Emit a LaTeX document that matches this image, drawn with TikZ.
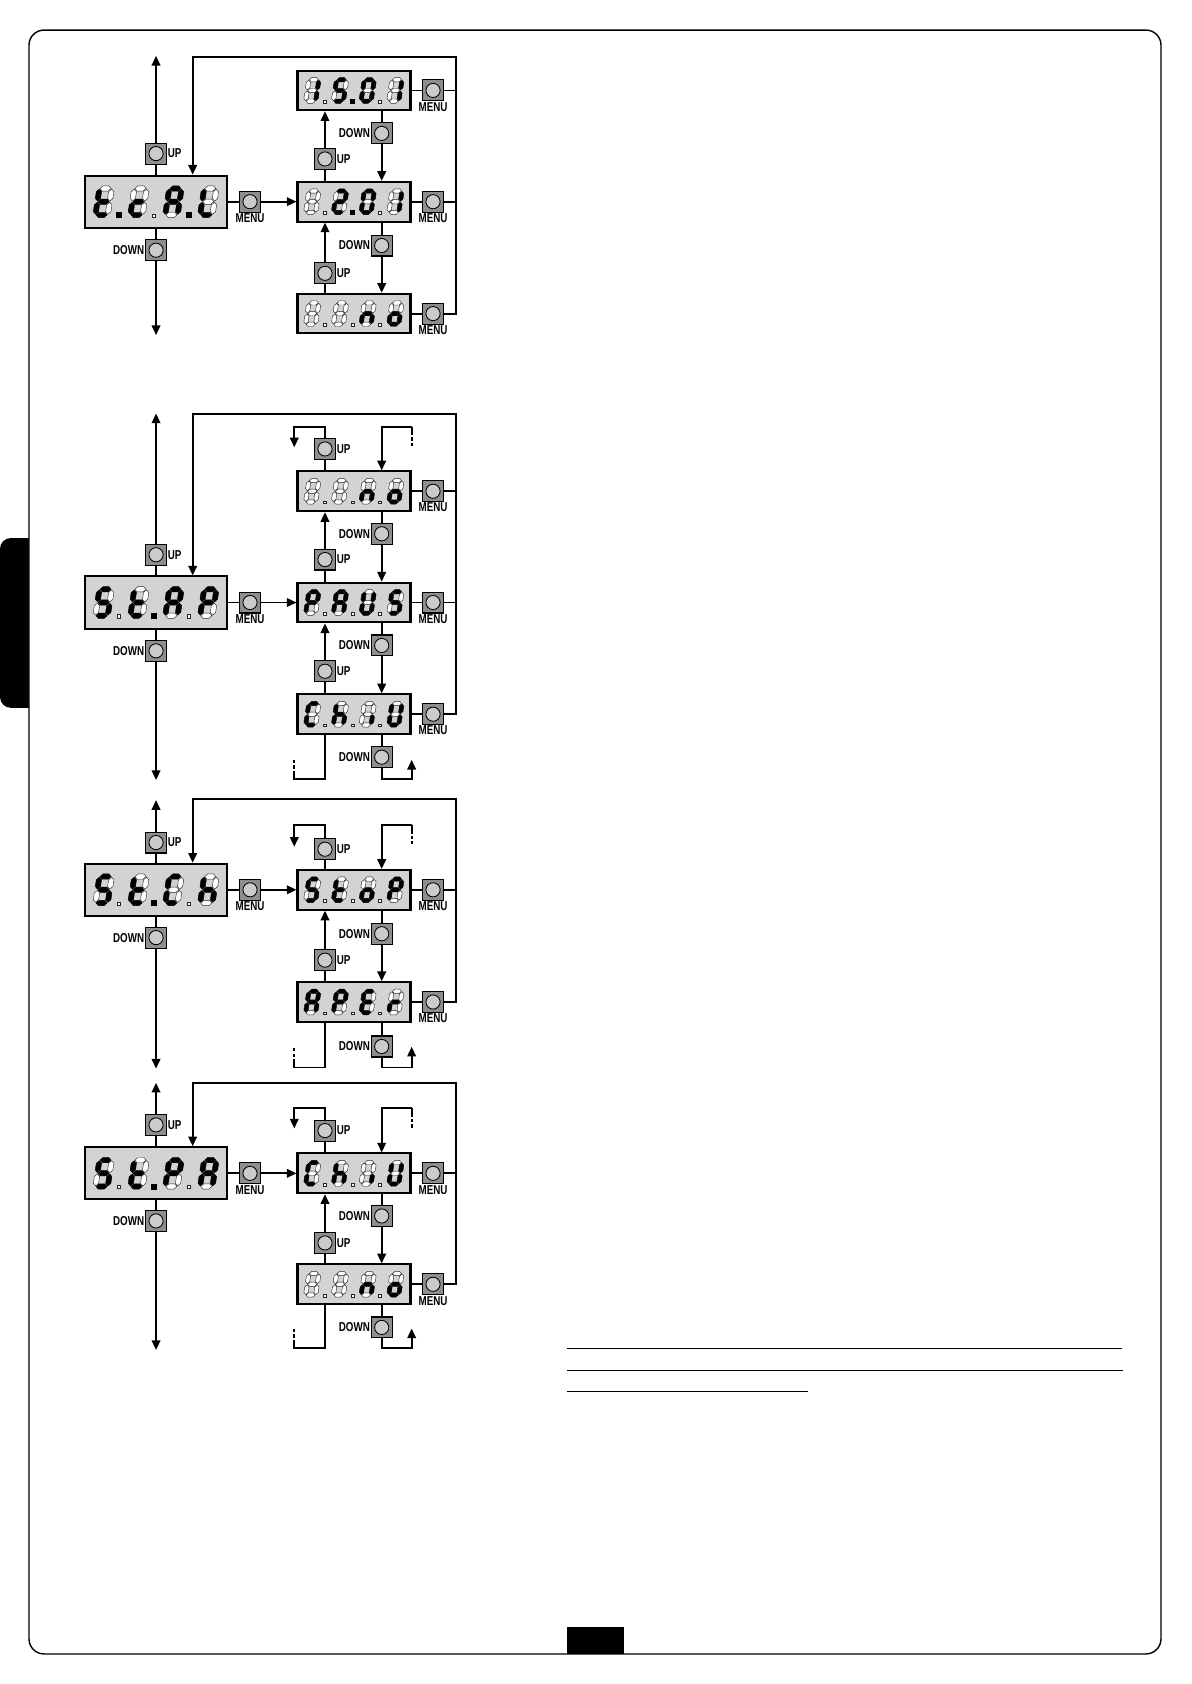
\documentclass[tikz,border=0pt]{standalone}
\usepackage{fontspec}
\setmainfont{Liberation Sans}
\newfontfamily\lblfont[FakeStretch=0.76]{Liberation Sans}
\usetikzlibrary{arrows.meta,calc}

\definecolor{dispfill}{HTML}{D3D3D3}
\definecolor{btnfill}{HTML}{8E8E8E}
\definecolor{btncirc}{HTML}{CBCBCB}

\tikzset{
  conn/.style={line width=1.7pt, draw=black},
  arr/.style={conn, -{Triangle[length=9pt,width=8pt]}},
  dashstub/.style={conn, dash pattern=on 8pt off 2pt on 3pt off 2pt on 3pt off 2pt on 3pt off 2pt},
  bigbox/.style={draw=black, line width=1.9pt, fill=dispfill, minimum width=132.5pt, minimum height=48.5pt, inner sep=0pt},
  smallbox/.style={draw=black, line width=1.9pt, fill=dispfill, minimum width=105.2pt, minimum height=37pt, inner sep=0pt},
  btn/.style={draw=black, line width=1pt, fill=btnfill, minimum size=19.5pt, inner sep=0pt,
     path picture={\draw[line width=0.8pt, fill=btncirc] (path picture bounding box.center) circle (6.6pt);}},
  lbl/.style={font=\lblfont\bfseries\fontsize{12}{12}\selectfont, inner sep=0.6pt},
  seg0/.style={fill=white, draw=black!85, line width=0.4pt},
  seg1/.style={fill=black, draw=black, line width=0.4pt},
}

% seven-segment codes: a b c d e f g
\def\sgblank{0000000}
\def\sgzero{1111110}
\def\sgone{0110000}
\def\sgtwo{1101101}
\def\sgfive{1011011}
\def\sgS{1011011}
\def\sgt{0001111}
\def\sgc{0001101}
\def\sgA{1110111}
\def\sgL{0001110}
\def\sgn{0010101}
\def\sgo{0011101}
\def\sgP{1100111}
\def\sgU{0111110}
\def\sgC{1001110}
\def\sgh{0010111}
\def\sgi{0010000}
\def\sgE{1001111}
\def\sgr{0000101}

\def\digsegs#1#2#3#4#5#6#7#8\relax{%
  \path[seg#1] (1.85,16.5) -- (3.35,18) -- (6.65,18) -- (8.15,16.5) -- (6.65,15) -- (3.35,15) -- cycle;
  \path[seg#2] (8.5,9.35) -- (10,10.85) -- (10,14.65) -- (8.5,16.15) -- (7,14.65) -- (7,10.85) -- cycle;
  \path[seg#3] (8.5,1.85) -- (10,3.35) -- (10,7.15) -- (8.5,8.65) -- (7,7.15) -- (7,3.35) -- cycle;
  \path[seg#4] (1.85,1.5) -- (3.35,3) -- (6.65,3) -- (8.15,1.5) -- (6.65,0) -- (3.35,0) -- cycle;
  \path[seg#5] (1.5,1.85) -- (3,3.35) -- (3,7.15) -- (1.5,8.65) -- (0,7.15) -- (0,3.35) -- cycle;
  \path[seg#6] (1.5,9.35) -- (3,10.85) -- (3,14.65) -- (1.5,16.15) -- (0,14.65) -- (0,10.85) -- cycle;
  \path[seg#7] (1.85,9) -- (3.35,10.5) -- (6.65,10.5) -- (8.15,9) -- (6.65,7.5) -- (3.35,7.5) -- cycle;
  \ifcase#8\relax
    \path[seg0] (13.9,0.3) rectangle (15.7,2.1);
  \or
    \path[seg1] (13.4,0) rectangle (16.2,2.8);
  \else\fi}

\newcommand\digit[4]{%
  \begin{scope}[shift={({#1},{#2})},x={(#3pt,0pt)},y={({0.15*#3pt},#3pt)}]
    \expandafter\digsegs#4\relax
  \end{scope}}

\newcommand\bigdisp[7]{%
  \node[bigbox] (#1) at (#2,#3) {};
  \digit{#2-59.25}{#3+14.75}{1.64}{#4}
  \digit{#2-26.75}{#3+14.75}{1.64}{#5}
  \digit{#2+5.75}{#3+14.75}{1.64}{#6}
  \digit{#2+38.25}{#3+14.75}{1.64}{#7}}

\newcommand\smalldisp[7]{%
  \node[smallbox] (#1) at (#2,#3) {};
  \digit{#2-47.3}{#3+12}{1.333}{#4}
  \digit{#2-21.5}{#3+12}{1.333}{#5}
  \digit{#2+4.3}{#3+12}{1.333}{#6}
  \digit{#2+30.1}{#3+12}{1.333}{#7}}

\newcommand\btnR[4]{\node[btn] (#1) at (#2,#3) {}; \node[lbl, anchor=west] (#1-l) at (#1.east) {#4};}
\newcommand\btnL[4]{\node[btn] (#1) at (#2,#3) {}; \node[lbl, anchor=east] (#1-l) at (#1.west) {#4};}
\newcommand\btnB[4]{\node[btn] (#1) at (#2,#3) {}; \node[lbl, anchor=north] (#1-l) at (#1.south) {#4};}

\begin{document}
\begin{tikzpicture}[x=1pt,y=-1pt]
\useasboundingbox (0,0) rectangle (1109,1568);
\fill[white] (0,0) rectangle (1109,1568);
% page frame, tab, footer
\fill[black, rounded corners=10pt] (0,501) rectangle (50,659);
\filldraw[fill=white, draw=black, line width=1.3pt, rounded corners=14pt] (27,28) rectangle (1081,1540);
\fill[black] (528,1515) rectangle (581,1540);
\draw[line width=1pt] (528,1256) -- (1045,1256);
\draw[line width=1pt] (528,1276) -- (1046,1276);
\draw[line width=1pt] (528,1296) -- (752,1296);

% ================= Diagram A =================
\coordinate (Atip) at (145.3,52);
\coordinate (Abtip) at (145.3,312);
\coordinate (Avt) at (424.8,53.4);
\coordinate (Aret) at (179.4,53.4);
\bigdisp{Abig}{145.3}{187.8}{\sgt1}{\sgc0}{\sgA1}{\sgL2}
\btnR{Aup}{145.3}{143}{UP}
\btnL{Adn}{145.3}{233}{DOWN}
\btnB{Amenu}{232.8}{187.8}{MENU}
\smalldisp{Ar1}{329.6}{84.2}{\sgone0}{\sgfive1}{\sgzero0}{\sgone2}
\smalldisp{Ar2}{329.6}{187.8}{\sgblank0}{\sgtwo1}{\sgzero0}{\sgone2}
\smalldisp{Ar3}{329.6}{292}{\sgblank0}{\sgblank0}{\sgn0}{\sgo2}
\btnB{Am1}{403.2}{84.2}{MENU}
\btnB{Am2}{403.2}{187.8}{MENU}
\btnB{Am3}{403.2}{292}{MENU}
\btnL{Ad1}{355.4}{124.2}{DOWN}
\btnR{Au1}{302.6}{148}{UP}
\btnL{Ad2}{355.4}{228.6}{DOWN}
\btnR{Au2}{302.6}{254.5}{UP}
\draw[arr] (Aup) -- (Atip);
\draw[conn] (Abig) -- (Aup);
\draw[conn] (Abig) -- (Adn);
\draw[arr] (Adn) -- (Abtip);
\draw[conn] (Abig) -- (Amenu);
\draw[arr] (Amenu) -- (Ar2);
\draw[conn] (Ar1) -- (Am1);
\draw[conn] (Ar2) -- (Am2);
\draw[conn] (Ar3) -- (Am3);
\draw[conn] (Am1) -- (Am1 -| Avt);
\draw[conn] (Am2) -- (Am2 -| Avt);
\draw[arr] (Am3) -| (Avt) -- (Aret) -- (Abig.north -| Aret);
\draw[conn] (Ar1.south -| Ad1) -- (Ad1);
\draw[arr] (Ad1) -- (Ar2.north -| Ad1);
\draw[conn] (Ar2.north -| Au1) -- (Au1);
\draw[arr] (Au1) -- (Ar1.south -| Au1);
\draw[conn] (Ar2.south -| Ad2) -- (Ad2);
\draw[arr] (Ad2) -- (Ar3.north -| Ad2);
\draw[conn] (Ar3.north -| Au2) -- (Au2);
\draw[arr] (Au2) -- (Ar2.south -| Au2);

% ================= Diagram B =================
\coordinate (Btip) at (145.3,385);
\coordinate (Bbtip) at (145.3,726.3);
\coordinate (Bvt) at (424.8,385.5);
\coordinate (Bret) at (179.4,385.5);
\coordinate (BtlA) at (274,397.3);
\coordinate (Btl) at (274,416.5);
\coordinate (BtrA) at (383.3,397.3);
\coordinate (Btr) at (383.3,416.5);
\coordinate (BblA) at (274,725.7);
\coordinate (Bbl) at (274,707);
\coordinate (BbrA) at (383.3,725.7);
\coordinate (Bbr) at (383.3,707.5);
\bigdisp{Bbig}{145.3}{561}{\sgS0}{\sgt1}{\sgA0}{\sgP2}
\btnR{Bup}{145.3}{516.5}{UP}
\btnL{Bdn}{145.3}{606}{DOWN}
\btnB{Bmenu}{232.8}{561}{MENU}
\smalldisp{Br1}{329.6}{457.4}{\sgblank0}{\sgblank0}{\sgn0}{\sgo2}
\smalldisp{Br2}{329.6}{561}{\sgP0}{\sgA0}{\sgU0}{\sgS2}
\smalldisp{Br3}{329.6}{665}{\sgC0}{\sgh0}{\sgi0}{\sgU2}
\btnB{Bm1}{403.2}{457.4}{MENU}
\btnB{Bm2}{403.2}{561}{MENU}
\btnB{Bm3}{403.2}{665}{MENU}
\btnR{Bu0}{302.6}{418}{UP}
\btnL{Bd1}{355.4}{497}{DOWN}
\btnR{Bu1}{302.6}{521}{UP}
\btnL{Bd2}{355.4}{601}{DOWN}
\btnR{Bu2}{302.6}{625}{UP}
\btnL{Bd3}{355.4}{705}{DOWN}
\draw[arr] (Bup) -- (Btip);
\draw[conn] (Bbig) -- (Bup);
\draw[conn] (Bbig) -- (Bdn);
\draw[arr] (Bdn) -- (Bbtip);
\draw[conn] (Bbig) -- (Bmenu);
\draw[arr] (Bmenu) -- (Br2);
\draw[conn] (Br1) -- (Bm1);
\draw[conn] (Br2) -- (Bm2);
\draw[conn] (Br3) -- (Bm3);
\draw[conn] (Bm1) -- (Bm1 -| Bvt);
\draw[conn] (Bm2) -- (Bm2 -| Bvt);
\draw[arr] (Bm3) -| (Bvt) -- (Bret) -- (Bbig.north -| Bret);
\draw[conn] (Br1.north -| Bu0) -- (Bu0);
\draw[arr] (Bu0) |- (BtlA) -- (Btl);
\draw[dashstub] (BtrA) -- (Btr);
\draw[arr] (BtrA) -| (Br1.north -| Bd1);
\draw[conn] (Br1.south -| Bd1) -- (Bd1);
\draw[arr] (Bd1) -- (Br2.north -| Bd1);
\draw[conn] (Br2.north -| Bu1) -- (Bu1);
\draw[arr] (Bu1) -- (Br1.south -| Bu1);
\draw[conn] (Br2.south -| Bd2) -- (Bd2);
\draw[arr] (Bd2) -- (Br3.north -| Bd2);
\draw[conn] (Br3.north -| Bu2) -- (Bu2);
\draw[arr] (Bu2) -- (Br2.south -| Bu2);
\draw[conn] (Br3.south -| Bd3) -- (Bd3);
\draw[arr] (Bd3) |- (BbrA) -- (Bbr);
\draw[conn, line cap=rect] (Br3.south -| Bu2) |- (BblA);
\draw[dashstub] (BblA) -- (Bbl);

% ================= Diagram C =================
\coordinate (Ctip) at (145.3,745);
\coordinate (Cbtip) at (145.3,995);
\coordinate (Cvt) at (424.8,744.3);
\coordinate (Cret) at (179.4,744.3);
\coordinate (CtlA) at (274,768.2);
\coordinate (Ctl) at (274,788.4);
\coordinate (CtrA) at (383.3,768.2);
\coordinate (Ctr) at (383.3,788);
\coordinate (CblA) at (274,994);
\coordinate (Cbl) at (274,974.6);
\coordinate (CbrA) at (383.3,994);
\coordinate (Cbr) at (383.3,974.6);
\bigdisp{Cbig}{145.3}{828.5}{\sgS0}{\sgt1}{\sgC0}{\sgh2}
\btnR{Cup}{145.3}{784.5}{UP}
\btnL{Cdn}{145.3}{873}{DOWN}
\btnB{Cmenu}{232.8}{828.5}{MENU}
\smalldisp{Cr1}{329.6}{828.5}{\sgS0}{\sgt0}{\sgo0}{\sgP2}
\smalldisp{Cr2}{329.6}{933}{\sgA0}{\sgP0}{\sgE0}{\sgr2}
\btnB{Cm1}{403.2}{828.5}{MENU}
\btnB{Cm2}{403.2}{933}{MENU}
\btnR{Cu0}{302.6}{790.7}{UP}
\btnL{Cd1}{355.4}{869.4}{DOWN}
\btnR{Cu1}{302.6}{894}{UP}
\btnL{Cd2}{355.4}{974.4}{DOWN}
\draw[arr] (Cup) -- (Ctip);
\draw[conn] (Cbig) -- (Cup);
\draw[conn] (Cbig) -- (Cdn);
\draw[arr] (Cdn) -- (Cbtip);
\draw[conn] (Cbig) -- (Cmenu);
\draw[arr] (Cmenu) -- (Cr1);
\draw[conn] (Cr1) -- (Cm1);
\draw[conn] (Cr2) -- (Cm2);
\draw[conn] (Cm1) -- (Cm1 -| Cvt);
\draw[arr] (Cm2) -| (Cvt) -- (Cret) -- (Cbig.north -| Cret);
\draw[conn] (Cr1.north -| Cu0) -- (Cu0);
\draw[arr] (Cu0) |- (CtlA) -- (Ctl);
\draw[dashstub] (CtrA) -- (Ctr);
\draw[arr] (CtrA) -| (Cr1.north -| Cd1);
\draw[conn] (Cr1.south -| Cd1) -- (Cd1);
\draw[arr] (Cd1) -- (Cr2.north -| Cd1);
\draw[conn] (Cr2.north -| Cu1) -- (Cu1);
\draw[arr] (Cu1) -- (Cr1.south -| Cu1);
\draw[conn] (Cr2.south -| Cd2) -- (Cd2);
\draw[arr] (Cd2) |- (CbrA) -- (Cbr);
\draw[conn, line cap=rect] (Cr2.south -| Cu1) |- (CblA);
\draw[dashstub] (CblA) -- (Cbl);

% ================= Diagram D =================
\coordinate (Dtip) at (145.3,1008.2);
\coordinate (Dbtip) at (145.3,1257);
\coordinate (Dvt) at (424.8,1008.2);
\coordinate (Dret) at (179.4,1008.2);
\coordinate (DtlA) at (274,1032);
\coordinate (Dtl) at (274,1050.7);
\coordinate (DtrA) at (383.3,1032);
\coordinate (Dtr) at (383.3,1050.7);
\coordinate (DblA) at (274,1255.5);
\coordinate (Dbl) at (274,1237);
\coordinate (DbrA) at (383.3,1255.5);
\coordinate (Dbr) at (383.3,1237);
\bigdisp{Dbig}{145.3}{1092.5}{\sgS0}{\sgt1}{\sgP0}{\sgA2}
\btnR{Dup}{145.3}{1047.4}{UP}
\btnL{Ddn}{145.3}{1136.8}{DOWN}
\btnB{Dmenu}{232.8}{1092.5}{MENU}
\smalldisp{Dr1}{329.6}{1092.5}{\sgC0}{\sgh0}{\sgi0}{\sgU2}
\smalldisp{Dr2}{329.6}{1195.8}{\sgblank0}{\sgblank0}{\sgn0}{\sgo2}
\btnB{Dm1}{403.2}{1092.5}{MENU}
\btnB{Dm2}{403.2}{1195.8}{MENU}
\btnR{Du0}{302.6}{1052.7}{UP}
\btnL{Dd1}{355.4}{1132.2}{DOWN}
\btnR{Du1}{302.6}{1157.3}{UP}
\btnL{Dd2}{355.4}{1236}{DOWN}
\draw[arr] (Dup) -- (Dtip);
\draw[conn] (Dbig) -- (Dup);
\draw[conn] (Dbig) -- (Ddn);
\draw[arr] (Ddn) -- (Dbtip);
\draw[conn] (Dbig) -- (Dmenu);
\draw[arr] (Dmenu) -- (Dr1);
\draw[conn] (Dr1) -- (Dm1);
\draw[conn] (Dr2) -- (Dm2);
\draw[conn] (Dm1) -- (Dm1 -| Dvt);
\draw[arr] (Dm2) -| (Dvt) -- (Dret) -- (Dbig.north -| Dret);
\draw[conn] (Dr1.north -| Du0) -- (Du0);
\draw[arr] (Du0) |- (DtlA) -- (Dtl);
\draw[dashstub] (DtrA) -- (Dtr);
\draw[arr] (DtrA) -| (Dr1.north -| Dd1);
\draw[conn] (Dr1.south -| Dd1) -- (Dd1);
\draw[arr] (Dd1) -- (Dr2.north -| Dd1);
\draw[conn] (Dr2.north -| Du1) -- (Du1);
\draw[arr] (Du1) -- (Dr1.south -| Du1);
\draw[conn] (Dr2.south -| Dd2) -- (Dd2);
\draw[arr] (Dd2) |- (DbrA) -- (Dbr);
\draw[conn, line cap=rect] (Dr2.south -| Du1) |- (DblA);
\draw[dashstub] (DblA) -- (Dbl);
\end{tikzpicture}
\end{document}
